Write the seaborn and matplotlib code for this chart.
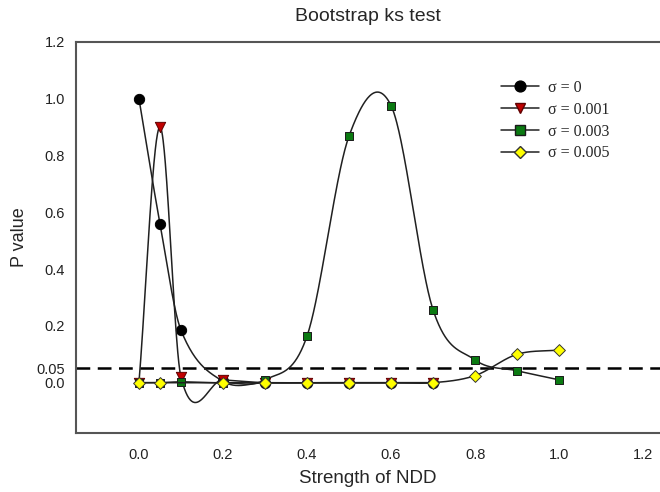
import numpy as np
import matplotlib
matplotlib.use('Agg')
import matplotlib.pyplot as plt
from matplotlib.lines import Line2D
import seaborn as sns

# data
x_s0 = [0.0, 0.05, 0.1, 0.2, 0.3, 0.4, 0.5, 0.6, 0.7]
p_s0 = [1.0, 0.56, 0.185, 0.005, 0.0, 0.0, 0.0, 0.0, 0.0]
x_s001 = [0.0, 0.05, 0.1, 0.2, 0.3, 0.4, 0.5, 0.6, 0.7]
p_s001 = [0.0, 0.90, 0.02, 0.01, 0.0, 0.0, 0.0, 0.0, 0.0]
x_s003 = [0.0, 0.05, 0.1, 0.2, 0.3, 0.4, 0.5, 0.6, 0.7, 0.8, 0.9, 1.0]
p_s003 = [0.0, 0.0, 0.003, 0.0, 0.01, 0.164, 0.868, 0.975, 0.256, 0.08, 0.042, 0.01]
x_s005 = [0.0, 0.05, 0.2, 0.3, 0.4, 0.5, 0.6, 0.7, 0.8, 0.9, 1.0]
p_s005 = [0.0, 0.0, 0.0, 0.0, 0.0, 0.0, 0.0, 0.0, 0.025, 0.10, 0.115]
labels = ['σ = 0', 'σ = 0.001', 'σ = 0.003', 'σ = 0.005']
x_ticks = [0.0, 0.2, 0.4, 0.6, 0.8, 1.0, 1.2]
y_ticks = [0.0, 0.05, 0.2, 0.4, 0.6, 0.8, 1.0, 1.2]
y_ticklabels = ['0.0', '0.05', '0.2', '0.4', '0.6', '0.8', '1.0', '1.2']


def smooth(x, y, n=60):
    # Catmull-Rom style cubic through the points (the smooth line look)
    x = np.asarray(x, float)
    y = np.asarray(y, float)
    m = np.gradient(y, x, edge_order=1)
    m[1:-1] = (y[2:] - y[:-2]) / (x[2:] - x[:-2])
    xs_all, ys_all = [], []
    for i in range(len(x) - 1):
        h = x[i + 1] - x[i]
        t = np.linspace(0, 1, n)
        h00 = 2 * t**3 - 3 * t**2 + 1
        h10 = t**3 - 2 * t**2 + t
        h01 = -2 * t**3 + 3 * t**2
        h11 = t**3 - t**2
        xs_all.append(x[i] + t * h)
        ys_all.append(h00 * y[i] + h10 * h * m[i] + h01 * y[i + 1] + h11 * h * m[i + 1])
    return np.concatenate(xs_all), np.concatenate(ys_all)


sns.set_style('white')
plt.rcParams['font.family'] = ['Liberation Sans', 'DejaVu Sans']

fig = plt.figure(figsize=(6.6, 4.92), dpi=100)
ax = fig.add_axes([0.115, 0.1205, 0.885, 0.7948])

series = [
    (x_s0, p_s0, 'o', 'black', 'black', 55),
    (x_s001, p_s001, 'v', '#c00000', '#600000', 55),
    (x_s003, p_s003, 's', '#0b7a12', '#1a1a1a', 40),
    (x_s005, p_s005, 'D', '#ffff00', '#333333', 36),
]

ax.axhline(0.05, color='black', lw=1.8, ls=(0, (5.5, 3)), zorder=1)

handles = []
for i, (xv, yv, mk, fc, ec, sz) in enumerate(series):
    xs, ys = smooth(xv, yv)
    sns.lineplot(x=xs, y=ys, ax=ax, color='#202020', lw=1.1, sort=False,
                 legend=False, zorder=2 + i * 2)
    sns.scatterplot(x=xv, y=yv, ax=ax, marker=mk, color=fc, edgecolor=ec,
                    linewidth=0.7, s=sz, legend=False, zorder=3 + i * 2)
    handles.append(Line2D([0], [0], color='#202020', lw=1.1, marker=mk,
                          markerfacecolor=fc, markeredgecolor=ec,
                          markersize=np.sqrt(sz) * 1.05))

ax.set_xlim(-0.15, 1.24)
ax.set_ylim(-0.176, 1.2)
ax.set_xticks(x_ticks)
ax.set_xticklabels([f'{v:.1f}' for v in x_ticks])
ax.set_yticks(y_ticks)
ax.set_yticklabels(y_ticklabels)
ax.tick_params(axis='both', direction='out', length=5, width=1.2,
               color='#555555', labelsize=10.5, labelcolor='#222222')
ax.tick_params(axis='x', pad=6)
ax.tick_params(axis='y', pad=3)

for side in ['left', 'bottom', 'top']:
    ax.spines[side].set_color('#555555')
    ax.spines[side].set_linewidth(1.5)
ax.spines['right'].set_visible(False)

ax.set_title('Bootstrap ks test', fontsize=14, pad=15)
ax.set_xlabel('Strength of NDD', fontsize=13.5, labelpad=6)
ax.set_ylabel('P value', fontsize=13, labelpad=6)

fig.legend(handles, labels, loc='upper left',
           bbox_to_anchor=(501 / 660, 1 - 80 / 492),
           frameon=False, borderpad=0, borderaxespad=0,
           handlelength=2.35, handletextpad=0.6, labelspacing=0.36,
           prop={'family': 'Liberation Serif', 'size': 11.5})

fig.savefig('out.png', dpi=100)
